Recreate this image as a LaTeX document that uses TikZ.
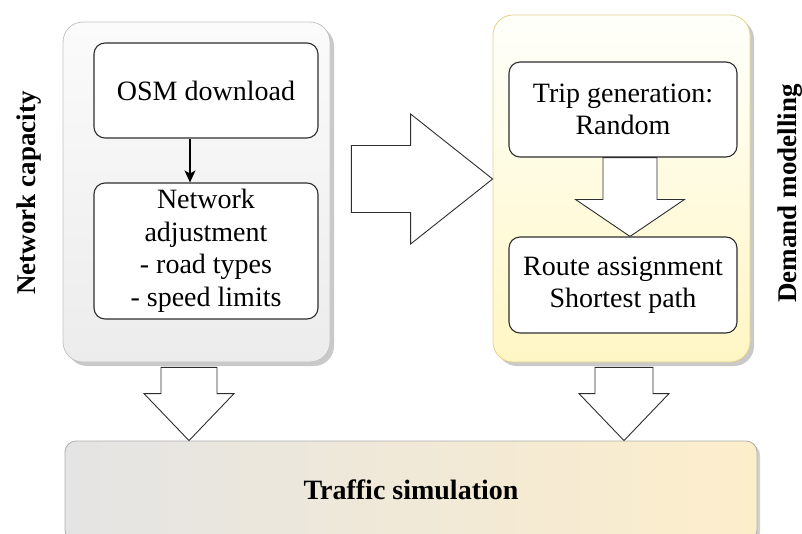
\documentclass[tikz,border=0pt]{standalone}
\usepackage{fontspec}
\setmainfont{Liberation Serif}
\usetikzlibrary{calc,shadows,arrows.meta}

\definecolor{graytop}{HTML}{FBFBFB}
\definecolor{graybot}{HTML}{ECECEC}
\definecolor{grayedge}{HTML}{C4C4C4}
\definecolor{yeltop}{HTML}{FFFFFB}
\definecolor{yelmid}{HTML}{FFFBE0}
\definecolor{yelbot}{HTML}{FFF6C4}
\definecolor{yeledge}{HTML}{E5D08C}
\definecolor{simleft}{HTML}{E4E4E4}
\definecolor{simright}{HTML}{FDEECB}
\definecolor{inkline}{HTML}{2E2E2E}

\tikzset{
  container/.style={rounded corners=20pt, inner sep=0pt, line width=0.8pt,
    drop shadow={shadow xshift=4pt, shadow yshift=-4pt, fill=black!30, opacity=0.7}},
  stepbox/.style={draw=inkline, fill=white, rounded corners=11pt, line width=1.1pt,
    inner sep=0pt, align=center, font=\fontsize{28}{32.5}\selectfont},
  blockarrow/.style={draw=inkline, fill=white, line width=0.9pt, line join=miter},
  sidelabel/.style={rotate=90, anchor=base, inner sep=0pt,
    font=\fontsize{27}{30}\selectfont\bfseries},
  thinarrow/.style={draw=black, line width=1.2pt,
    -{Stealth[length=12pt,width=11pt,inset=3pt]}}
}

% vertical block arrow: #1 top point, #2 tip point, #3 shaft half width,
% #4 head half width, #5 head length
\newcommand{\blockdown}[5]{%
  \draw[blockarrow] let \p1=(#1), \p2=(#2) in
    (\x2-#3,\y1) -- (\x2-#3,\y2+#5) -- (\x2-#4,\y2+#5) -- (\x2,\y2)
    -- (\x2+#4,\y2+#5) -- (\x2+#3,\y2+#5) -- (\x2+#3,\y1) -- cycle;}

\begin{document}
\begin{tikzpicture}[x=1pt,y=-1pt]
\useasboundingbox (0,0) rectangle (802,533);
\clip (0,0) rectangle (802,533);

% the two stage containers
\node[container, draw=grayedge, top color=graytop, bottom color=graybot,
      minimum width=267pt, minimum height=340pt] (lcont) at (196.5,192) {};
\node[container, draw=yeledge, top color=yeltop, bottom color=yelbot, middle color=yelmid,
      minimum width=257pt, minimum height=347pt] (rcont) at (621.5,188.5) {};

% network capacity steps
\node[stepbox, minimum width=224pt, minimum height=95pt] (osm) at (206,90.5) {OSM download};
\node[stepbox, minimum width=224pt, minimum height=136pt] (netadj) at (206,251)
  {Network\\adjustment\\- road types\\- speed limits};
\coordinate (osmout) at ($(osm.south)+(-16,0)$);
\coordinate (netin) at (osmout |- netadj.north);
\draw[thinarrow] (osmout) -- (netin);

% demand modelling steps
\node[stepbox, minimum width=228pt, minimum height=95pt] (trip) at (623,109.5)
  {Trip generation:\\Random};
\node[stepbox, minimum width=228pt, minimum height=96pt] (route) at (623,285)
  {Route assignment\\Shortest path};
\coordinate (itop) at ($(trip.south)+(7,0)$);
\coordinate (itip) at (itop |- route.north);
\blockdown{itop}{itip}{27pt}{54.5pt}{37pt}

% side labels
\node[sidelabel] (lcap) at (35,193) {Network capacity};
\node[sidelabel] (rcap) at (796,193.5) {Demand modelling};

% transfer from network to demand
\coordinate (rstart) at ($(lcont.east)+(21,0)$);
\coordinate (rtip) at ($(rcont.west)+(0,-9.5)$);
\draw[blockarrow] let \p1=(rstart), \p2=(rtip) in
  (\x1,\y2+33.5pt) -- (\x2-82pt,\y2+33.5pt) -- (\x2-82pt,\y2+65pt) -- (\x2,\y2)
  -- (\x2-82pt,\y2-65pt) -- (\x2-82pt,\y2-33.5pt) -- (\x1,\y2-33.5pt) -- cycle;

% simulation stage
\node[draw=black!32, left color=simleft, right color=simright, rounded corners=11pt,
      line width=0.8pt, inner sep=0pt, minimum width=692pt, minimum height=100pt,
      drop shadow={shadow xshift=3pt, shadow yshift=-3pt, fill=black!30, opacity=0.6}]
      (traffic) at (411,491) {};
\node[font=\fontsize{28}{32}\selectfont\bfseries, inner sep=0pt] (tlabel) at (411,490)
  {Traffic simulation};

% feeds into the simulation
\coordinate (ltop) at ($(lcont.south)+(-7.5,5)$);
\coordinate (ltip) at (ltop |- traffic.north);
\blockdown{ltop}{ltip}{28pt}{45pt}{47pt}
\coordinate (rtop) at ($(rcont.south)+(2.5,5)$);
\coordinate (rtip2) at (rtop |- traffic.north);
\blockdown{rtop}{rtip2}{29pt}{45pt}{47pt}
\end{tikzpicture}
\end{document}
